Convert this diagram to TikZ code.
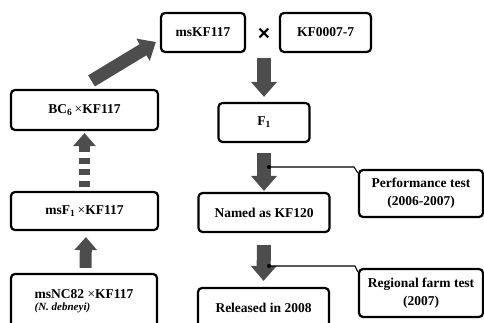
\documentclass[tikz,border=0pt]{standalone}
\usepackage{fontspec}
\setmainfont{Liberation Serif}
\newfontfamily\xsans{Liberation Sans}
\usetikzlibrary{arrows.meta}
\definecolor{arrgray}{HTML}{4D4D4D}
\tikzset{
  box/.style={draw, line width=2.2pt, rounded corners=4pt, inner sep=0pt, align=center,
    font=\fontsize{13.5}{18}\selectfont\bfseries},
  blk/.style={draw=arrgray, line width=14pt, -{Triangle[length=15pt,width=25pt]}},
  blksm/.style={draw=arrgray, line width=12pt, -{Triangle[length=13pt,width=22pt]}},
  conn/.style={draw=black, line width=1.1pt},
}
\newcommand{\tms}{{\mdseries\,×}}
\begin{document}
\begin{tikzpicture}[x=1pt,y=-1pt]
\clip (0,0) rectangle (484,323);
\useasboundingbox (0,0) rectangle (484,323);
% top row
\node[box, minimum width=84pt, minimum height=39pt] (msKF) at (203,32.5) {msKF117};
\node[font=\xsans\bfseries\fontsize{21}{21}\selectfont] (times) at (264,34) {×};
\node[box, minimum width=91pt, minimum height=39pt] (KF7) at (325.5,32.5) {KF0007-7};
% centre column
\node[box, minimum width=91pt, minimum height=39pt] (F1) at (264,122.5) {F\textsubscript{1}};
\node[box, minimum width=131pt, minimum height=39pt] (named) at (264,212.5) {Named as KF120};
\node[box, minimum width=131pt, minimum height=39pt] (rel) at (263.5,307.5) {Released in 2008};
% right column
\node[box, minimum width=124pt, minimum height=47pt] (perf) at (421,193.5) {Performance test\\(2006-2007)};
\node[box, minimum width=124pt, minimum height=48pt] (reg) at (421,293) {Regional farm test\\(2007)};
% left column
\node[box, minimum width=147pt, minimum height=40pt] (bc) at (84.5,110) {BC\textsubscript{6}\tms KF117};
\node[box, minimum width=147pt, minimum height=38pt] (msf) at (84.5,211) {msF\textsubscript{1}\tms KF117};
\node[box, minimum width=146pt, minimum height=54pt, align=left] (msnc) at (84,301)
  {msNC82 {\mdseries×}KF117\\[-6pt]{\fontsize{11}{11}\selectfont\itshape (N. debneyi)}};
% block arrows
\draw[blk, shorten <=24pt, shorten >=5pt] (times.center) -- (F1.north);
\draw[blk, shorten <=10pt, shorten >=1pt] (F1.south) -- (named.north);
\draw[blk, shorten <=12pt, shorten >=6pt] (named.south) -- (rel.north);
\draw[blksm, shorten <=5pt, shorten >=6pt] ([xshift=1.5pt]msnc.north) -- ([xshift=1.5pt]msf.south);
\draw[blksm, line width=11pt, dash pattern=on 6pt off 5.5pt, shorten <=4pt, shorten >=2pt] (msf.north) -- (bc.south);
\draw[blk, line width=13pt] ([shift={(7,-8)}]bc.north) -- ([shift={(-4,9.5)}]msKF.west);
% connectors
\coordinate (d1) at (269,167);
\coordinate (d2) at (269,266);
\fill (d1) circle (2pt);
\fill (d2) circle (2pt);
\draw[conn] (d1) -- (354,167) -- ([yshift=-4pt]perf.north west);
\draw[conn] (d2) -- (355,266) -- ([yshift=-4pt]reg.north west);
\end{tikzpicture}
\end{document}
